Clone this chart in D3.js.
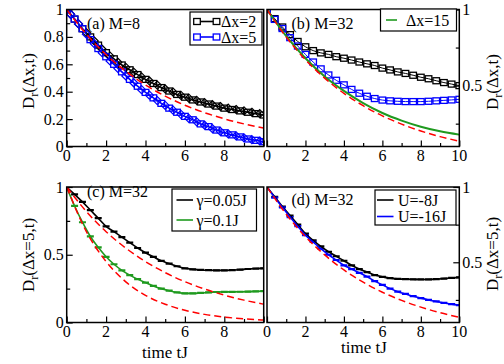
<!DOCTYPE html>
<html>
<head>
<meta charset="utf-8">
<script src="https://cdn.jsdelivr.net/npm/d3@7"></script>
<style>
  html, body { margin: 0; padding: 0; background: #fff; }
  svg { display: block; }
</style>
</head>
<body>
<div id="chart"></div>
<script>
// time grids
const tFine = [0, 0.4, 0.8, 1.2, 1.6, 2.0, 2.4, 2.8, 3.2, 3.6, 4.0, 4.4, 4.8, 5.2, 5.6, 6.0, 6.4, 6.8, 7.2, 7.6, 8.0, 8.4, 8.8, 9.2, 9.6, 10];
const tHalf = [0.2, 0.6, 1.0, 1.4, 1.8, 2.2, 2.6, 3.0, 3.4, 3.8, 4.2, 4.6, 5.0, 5.4, 5.8, 6.2, 6.6, 7.0, 7.4, 7.8, 8.2, 8.6, 9.0, 9.4, 9.8];
const tCoarse = [0, 1, 2, 3, 4, 5, 6, 7, 8, 9, 10];

// reference decays (red dashed)
const refSlow = [1, 0.819, 0.670, 0.549, 0.449, 0.368, 0.301, 0.247, 0.202, 0.165, 0.135];
const refFast = [1, 0.67, 0.45, 0.30, 0.20, 0.135, 0.09, 0.06, 0.04, 0.027, 0.018];

// (a) M=8
const aDx2 = [1, 0.93, 0.86, 0.80, 0.74, 0.685, 0.64, 0.595, 0.56, 0.525, 0.49, 0.46, 0.43, 0.405, 0.38, 0.36, 0.34, 0.325, 0.31, 0.295, 0.28, 0.27, 0.26, 0.25, 0.24, 0.23];
const aDx5 = [1, 0.93, 0.86, 0.78, 0.715, 0.655, 0.60, 0.545, 0.49, 0.44, 0.395, 0.355, 0.315, 0.28, 0.25, 0.22, 0.195, 0.165, 0.145, 0.12, 0.10, 0.085, 0.07, 0.055, 0.045, 0.035];
const aDx2Alt = [0.965, 0.895, 0.83, 0.77, 0.71, 0.66, 0.615, 0.578, 0.543, 0.508, 0.478, 0.448, 0.42, 0.397, 0.373, 0.353, 0.337, 0.32, 0.305, 0.292, 0.28, 0.27, 0.26, 0.25, 0.24];
const aDx5Alt = [0.965, 0.895, 0.82, 0.75, 0.685, 0.625, 0.57, 0.515, 0.465, 0.415, 0.375, 0.335, 0.30, 0.265, 0.235, 0.205, 0.18, 0.155, 0.13, 0.11, 0.092, 0.078, 0.063, 0.05, 0.04];

// (b) M=32
const bDx2 = [1, 0.94, 0.885, 0.835, 0.79, 0.755, 0.73, 0.715, 0.705, 0.69, 0.68, 0.668, 0.655, 0.643, 0.632, 0.615, 0.603, 0.59, 0.58, 0.568, 0.555, 0.545, 0.532, 0.52, 0.51, 0.50];
const bDx5 = [1, 0.935, 0.875, 0.815, 0.76, 0.705, 0.655, 0.61, 0.57, 0.535, 0.505, 0.475, 0.45, 0.43, 0.415, 0.405, 0.40, 0.397, 0.395, 0.395, 0.395, 0.397, 0.40, 0.403, 0.406, 0.41];
const bDx15 = [1, 0.825, 0.68, 0.56, 0.465, 0.385, 0.32, 0.27, 0.23, 0.20, 0.178];

// (c) M=32, dissipation
const cG005 = [1, 0.945, 0.89, 0.83, 0.77, 0.71, 0.67, 0.63, 0.59, 0.55, 0.515, 0.485, 0.455, 0.435, 0.415, 0.40, 0.392, 0.388, 0.386, 0.385, 0.385, 0.386, 0.39, 0.395, 0.398, 0.40];
const cG01 = [1, 0.86, 0.74, 0.635, 0.555, 0.485, 0.43, 0.385, 0.35, 0.32, 0.295, 0.27, 0.25, 0.235, 0.222, 0.215, 0.215, 0.218, 0.222, 0.225, 0.226, 0.226, 0.227, 0.228, 0.23, 0.232];

// (d) M=32, interaction
const dU8 = [1, 0.935, 0.87, 0.81, 0.75, 0.69, 0.645, 0.605, 0.57, 0.54, 0.51, 0.48, 0.455, 0.435, 0.415, 0.403, 0.395, 0.39, 0.388, 0.387, 0.386, 0.386, 0.388, 0.392, 0.396, 0.40];
const dU16 = [1, 0.93, 0.865, 0.80, 0.74, 0.68, 0.635, 0.59, 0.55, 0.515, 0.48, 0.455, 0.43, 0.405, 0.375, 0.35, 0.325, 0.305, 0.29, 0.275, 0.262, 0.25, 0.24, 0.23, 0.222, 0.215];

const xMajor = [0, 2, 4, 6, 8, 10];
const xMinor = [1, 3, 5, 7, 9];

const RED = "#ff0000", BLUE = "#0000ff", GREEN = "#1f9a1f", BLACK = "#000000";
const FONT = "'Liberation Serif', 'Times New Roman', Times, 'DejaVu Serif', serif";

const svg = d3.select("#chart").append("svg").attr("width", 504).attr("height", 364)
    .attr("font-family", FONT);

const zip = (ts, vs) => ts.map((t, i) => ({ t, v: vs[i] }));

function makePanel(cfg) {
    const x = d3.scaleLinear().domain([0, 10]).range([cfg.left, cfg.right]);
    const y = d3.scaleLinear().domain(cfg.yDomain).range([cfg.bottom, cfg.top]);
    const g = svg.append("g");
    const clipId = "clip-" + cfg.id;
    svg.append("clipPath").attr("id", clipId).append("rect")
        .attr("x", cfg.left).attr("y", cfg.top)
        .attr("width", cfg.right - cfg.left).attr("height", cfg.bottom - cfg.top);

    // x axis ticks (inward) and labels
    const xAx = g.append("g").attr("transform", `translate(0,${cfg.bottom})`)
        .call(d3.axisBottom(x).tickValues(xMajor).tickSize(-6).tickFormat(""));
    xAx.select(".domain").remove();
    const xAxMin = g.append("g").attr("transform", `translate(0,${cfg.bottom})`)
        .call(d3.axisBottom(x).tickValues(xMinor).tickSize(-3.5).tickFormat(""));
    xAxMin.select(".domain").remove();
    g.selectAll(".tick line").attr("stroke-width", 1.2);
    g.selectAll(".xl").data(cfg.xLabels).join("text")
        .attr("x", d => x(d)).attr("y", cfg.bottom + 14)
        .attr("font-family", FONT)
        .attr("text-anchor", "middle").attr("font-size", 16).text(d => d);

    // y axis ticks
    const side = cfg.ySide;
    const axisFn = side === "left" ? d3.axisLeft : d3.axisRight;
    const yPos = side === "left" ? cfg.left : cfg.right;
    const yAx = g.append("g").attr("transform", `translate(${yPos},0)`)
        .call(axisFn(y).tickValues(cfg.yMajor).tickSize(-6).tickFormat(""));
    yAx.select(".domain").remove();
    const yAxMin = g.append("g").attr("transform", `translate(${yPos},0)`)
        .call(axisFn(y).tickValues(cfg.yMinor).tickSize(-3.5).tickFormat(""));
    yAxMin.select(".domain").remove();
    g.selectAll(".tick line").attr("stroke-width", 1.2);
    g.selectAll(".yl").data(cfg.yLabels).join("text")
        .attr("x", side === "left" ? cfg.left - 3 : cfg.right + 3)
        .attr("y", d => y(d) + 5.5)
        .attr("font-family", FONT)
        .attr("text-anchor", side === "left" ? "end" : "start")
        .attr("font-size", 16).text(d => d);

    const line = d3.line().x(d => x(d.t)).y(d => y(d.v)).curve(d3.curveMonotoneX);
    const plot = g.append("g").attr("clip-path", `url(#${clipId})`);

    return { x, y, g, plot, line, cfg };
}

function drawLine(p, pts, color, width, dash) {
    p.plot.append("path").datum(pts)
        .attr("d", p.line).attr("fill", "none")
        .attr("stroke", color).attr("stroke-width", width)
        .attr("stroke-dasharray", dash || null);
}

function drawSquares(p, pts, color) {
    p.plot.append("g").selectAll("rect").data(pts).join("rect")
        .attr("x", d => p.x(d.t) - 3.3).attr("y", d => p.y(d.v) - 3)
        .attr("width", 6.6).attr("height", 6)
        .attr("fill", "none").attr("stroke", color).attr("stroke-width", 1.3);
}

function drawDiamonds(p, pts, color) {
    p.plot.append("g").selectAll("path").data(pts).join("path")
        .attr("d", d => {
            const cx = p.x(d.t), cy = p.y(d.v), r = 4;
            return `M${cx},${cy - r}L${cx + r},${cy}L${cx},${cy + r}L${cx - r},${cy}Z`;
        })
        .attr("fill", "none").attr("stroke", color).attr("stroke-width", 1.2);
}

function drawDashes(p, pts, color) {
    p.plot.append("g").selectAll("line").data(pts.slice(1)).join("line")
        .attr("x1", d => p.x(d.t) - 3.5).attr("x2", d => p.x(d.t) + 3.5)
        .attr("y1", d => p.y(d.v)).attr("y2", d => p.y(d.v))
        .attr("stroke", color).attr("stroke-width", 2.2);
}

function drawFrame(p) {
    const c = p.cfg;
    p.g.append("rect").attr("x", c.left).attr("y", c.top)
        .attr("width", c.right - c.left).attr("height", c.bottom - c.top)
        .attr("fill", "none").attr("stroke", "#000").attr("stroke-width", 1.5);
}

function panelLabel(text, x, y) {
    svg.append("text").attr("x", x).attr("y", y).attr("font-size", 16)
        .attr("font-family", FONT).text(text);
}

function legend(box, entries) {
    const lg = svg.append("g");
    lg.append("rect").attr("x", box.x).attr("y", box.y).attr("width", box.w).attr("height", box.h)
        .attr("fill", "#fff").attr("stroke", "#000").attr("stroke-width", 1.2);
    entries.forEach((e, i) => {
        const cy = box.y + box.rowY[i];
        lg.append("line").attr("x1", box.lx0).attr("x2", box.lx1).attr("y1", cy).attr("y2", cy)
            .attr("stroke", e.color).attr("stroke-width", 1.6);
        if (e.square) {
            [box.lx0, box.lx1].forEach(cx => {
                lg.append("rect").attr("x", cx - 3.3).attr("y", cy - 3).attr("width", 6.6).attr("height", 6)
                    .attr("fill", "#fff").attr("stroke", e.color).attr("stroke-width", 1.3);
            });
        }
        lg.append("text").attr("x", box.tx).attr("y", cy + 5.5).attr("font-size", 16)
            .attr("font-family", FONT).text(e.label);
    });
}

function yTitle(x, y, inner) {
    const t = svg.append("text").attr("transform", `translate(${x},${y}) rotate(-90)`)
        .attr("font-family", FONT)
        .attr("text-anchor", "middle").attr("font-size", 17);
    t.append("tspan").text("D");
    t.append("tspan").attr("font-size", 12).attr("dy", 4).text("r");
    t.append("tspan").attr("dy", -4).text(inner);
}

// ---- panel (a)
const pa = makePanel({ id: "a", left: 66.7, right: 263.7, top: 9.5, bottom: 146.5, yDomain: [0, 1],
    ySide: "left", yMajor: [0, 0.2, 0.4, 0.6, 0.8, 1], yMinor: [0.1, 0.3, 0.5, 0.7, 0.9],
    yLabels: [0, 0.2, 0.4, 0.6, 0.8, 1], xLabels: [0, 2, 4, 6, 8] });
drawLine(pa, zip(tFine, aDx2), BLACK, 1.6);
drawLine(pa, zip(tFine, aDx5), BLUE, 1.6);
drawSquares(pa, zip(tFine, aDx2), BLACK);
drawDiamonds(pa, zip(tHalf, aDx2Alt), BLACK);
drawSquares(pa, zip(tFine, aDx5), BLUE);
drawDiamonds(pa, zip(tHalf, aDx5Alt), BLUE);
drawLine(pa, zip(tCoarse, refSlow), RED, 1.5, "7,4");
drawFrame(pa);

// ---- panel (b)
const pb = makePanel({ id: "b", left: 267, right: 459.3, top: 9.5, bottom: 146.5, yDomain: [0.1, 1],
    ySide: "right", yMajor: [0.5, 1], yMinor: [0.25, 0.75],
    yLabels: [0.5, 1], xLabels: [0, 2, 4, 6, 8, 10] });
drawLine(pb, zip(tFine, bDx2), BLACK, 1);
drawLine(pb, zip(tFine, bDx5), BLUE, 1);
drawSquares(pb, zip(tFine, bDx2), BLACK);
drawSquares(pb, zip(tFine, bDx5), BLUE);
drawLine(pb, zip(tCoarse, bDx15), GREEN, 2);
drawLine(pb, zip(tCoarse, refSlow), RED, 1.5, "7,4");
drawFrame(pb);

// ---- panel (c)
const pc = makePanel({ id: "c", left: 66.7, right: 263.7, top: 187, bottom: 322.5, yDomain: [0, 1],
    ySide: "left", yMajor: [0, 0.5, 1], yMinor: [0.25, 0.75],
    yLabels: [0, 0.5, 1], xLabels: [0, 2, 4, 6, 8] });
drawDashes(pc, zip(tFine, cG005), BLACK);
drawDashes(pc, zip(tFine, cG01), GREEN);
drawLine(pc, zip(tFine, cG005), BLACK, 1.6);
drawLine(pc, zip(tFine, cG01), GREEN, 1.6);
drawLine(pc, zip(tCoarse, refSlow), RED, 1.5, "7,4");
drawLine(pc, zip(tCoarse, refFast), RED, 1.5, "7,4");
drawFrame(pc);

// ---- panel (d)
const pd = makePanel({ id: "d", left: 267, right: 459.3, top: 187, bottom: 322.5, yDomain: [0.1, 1],
    ySide: "right", yMajor: [0.5, 1], yMinor: [0.25, 0.75],
    yLabels: [0.5, 1], xLabels: [0, 2, 4, 6, 8, 10] });
drawDashes(pd, zip(tFine, dU8), BLACK);
drawDashes(pd, zip(tFine, dU16), BLUE);
drawLine(pd, zip(tFine, dU8), BLACK, 1.6);
drawLine(pd, zip(tFine, dU16), BLUE, 1.6);
drawLine(pd, zip(tCoarse, refSlow), RED, 1.5, "7,4");
drawFrame(pd);

// panel labels
panelLabel("(a) M=8", 87, 29);
panelLabel("(b) M=32", 291.5, 29);
panelLabel("(c) M=32", 87, 197);
panelLabel("(d) M=32", 291.5, 205);

// legends
legend({ x: 190, y: 12, w: 72, h: 33, rowY: [9.5, 25], lx0: 197, lx1: 216.5, tx: 221 },
    [{ label: "Δx=2", color: BLACK, square: true }, { label: "Δx=5", color: BLUE, square: true }]);
legend({ x: 380.5, y: 9, w: 76, h: 22, rowY: [11], lx0: 386, lx1: 397, tx: 406 },
    [{ label: "Δx=15", color: GREEN }]);
legend({ x: 172, y: 189, w: 84.5, h: 42, rowY: [11, 31], lx0: 176.5, lx1: 193, tx: 196.5 },
    [{ label: "γ=0.05J", color: BLACK }, { label: "γ=0.1J", color: GREEN }]);
legend({ x: 375, y: 190, w: 81, h: 35, rowY: [10, 26.5], lx0: 377, lx1: 393.5, tx: 398 },
    [{ label: "U=-8J", color: BLACK }, { label: "U=-16J", color: BLUE }]);

// axis titles
yTitle(34, 81, "(Δx,t)");
yTitle(498, 82, "(Δx,t)");
yTitle(34, 255, "(Δx=5,t)");
yTitle(498, 254, "(Δx=5,t)");

svg.append("text").attr("x", 165).attr("y", 358).attr("text-anchor", "middle")
    .attr("font-family", FONT).attr("font-size", 17).text("time tJ");
svg.append("text").attr("x", 364).attr("y", 353).attr("text-anchor", "middle")
    .attr("font-family", FONT).attr("font-size", 17).text("time tJ");
</script>
</body>
</html>
